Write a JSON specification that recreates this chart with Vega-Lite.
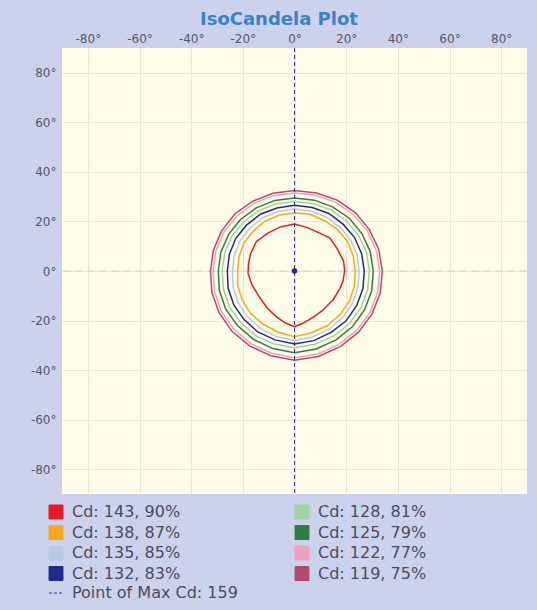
{
  "$schema": "https://vega.github.io/schema/vega-lite/v6.json",
  "autosize": {"type": "none"},
  "padding": {"left": 62, "top": 48, "right": 10, "bottom": 116},
  "width": 465,
  "height": 446,
  "background": "#ccd2ec",
  "title": {
    "text": "IsoCandela Plot",
    "font": "DejaVu Sans",
    "fontSize": 18,
    "fontWeight": "bold",
    "color": "#3b82c4",
    "anchor": "middle",
    "frame": "bounds",
    "offset": 3
  },
  "config": {
    "view": {"fill": "#fffcea", "stroke": null},
    "axis": {
      "labelFont": "DejaVu Sans",
      "labelFontSize": 12,
      "labelColor": "#555566",
      "domain": false,
      "ticks": false,
      "gridColor": "#ebe5cf",
      "gridWidth": 1,
      "title": null
    }
  },
  "datasets": {
    "maxline": [{"k": "Point of Max Cd: 159", "x": 0}],
    "zero": [{"y": 0}],
    "center": [{"x": 0, "y": 0}],
    "contours": [
      {"k": "Cd: 143, 90%", "i": 0, "x": 0, "y": 19},
      {"k": "Cd: 143, 90%", "i": 1, "x": 5, "y": 17.5},
      {"k": "Cd: 143, 90%", "i": 2, "x": 10, "y": 15.2},
      {"k": "Cd: 143, 90%", "i": 3, "x": 13.6, "y": 13.4},
      {"k": "Cd: 143, 90%", "i": 4, "x": 16.5, "y": 9},
      {"k": "Cd: 143, 90%", "i": 5, "x": 19, "y": 4},
      {"k": "Cd: 143, 90%", "i": 6, "x": 19.4, "y": 0},
      {"k": "Cd: 143, 90%", "i": 7, "x": 18.8, "y": -4},
      {"k": "Cd: 143, 90%", "i": 8, "x": 17.6, "y": -7},
      {"k": "Cd: 143, 90%", "i": 9, "x": 15, "y": -11.5},
      {"k": "Cd: 143, 90%", "i": 10, "x": 11, "y": -15.8},
      {"k": "Cd: 143, 90%", "i": 11, "x": 7, "y": -18.8},
      {"k": "Cd: 143, 90%", "i": 12, "x": 3, "y": -21.2},
      {"k": "Cd: 143, 90%", "i": 13, "x": 0, "y": -22.5},
      {"k": "Cd: 143, 90%", "i": 14, "x": -3.5, "y": -21},
      {"k": "Cd: 143, 90%", "i": 15, "x": -7.1, "y": -18.4},
      {"k": "Cd: 143, 90%", "i": 16, "x": -10.5, "y": -15},
      {"k": "Cd: 143, 90%", "i": 17, "x": -13.6, "y": -10.5},
      {"k": "Cd: 143, 90%", "i": 18, "x": -16.5, "y": -5.5},
      {"k": "Cd: 143, 90%", "i": 19, "x": -18, "y": -1},
      {"k": "Cd: 143, 90%", "i": 20, "x": -17.8, "y": 3},
      {"k": "Cd: 143, 90%", "i": 21, "x": -17, "y": 7},
      {"k": "Cd: 143, 90%", "i": 22, "x": -14.8, "y": 11.8},
      {"k": "Cd: 143, 90%", "i": 23, "x": -10.5, "y": 15.2},
      {"k": "Cd: 143, 90%", "i": 24, "x": -5.5, "y": 17.8},
      {"k": "Cd: 143, 90%", "i": 25, "x": 0, "y": 19},

      {"k": "Cd: 138, 87%", "i": 0, "x": 23.5, "y": 0},
      {"k": "Cd: 138, 87%", "i": 1, "x": 22.7, "y": 6.1},
      {"k": "Cd: 138, 87%", "i": 2, "x": 20.6, "y": 11.8},
      {"k": "Cd: 138, 87%", "i": 3, "x": 16.6, "y": 16.8},
      {"k": "Cd: 138, 87%", "i": 4, "x": 11.8, "y": 20.2},
      {"k": "Cd: 138, 87%", "i": 5, "x": 6.1, "y": 22.9},
      {"k": "Cd: 138, 87%", "i": 6, "x": 0, "y": 23.5},
      {"k": "Cd: 138, 87%", "i": 7, "x": -6, "y": 22.5},
      {"k": "Cd: 138, 87%", "i": 8, "x": -11.5, "y": 20.1},
      {"k": "Cd: 138, 87%", "i": 9, "x": -16.1, "y": 16},
      {"k": "Cd: 138, 87%", "i": 10, "x": -19.6, "y": 11.3},
      {"k": "Cd: 138, 87%", "i": 11, "x": -21.5, "y": 5.8},
      {"k": "Cd: 138, 87%", "i": 12, "x": -22, "y": 0},
      {"k": "Cd: 138, 87%", "i": 13, "x": -22, "y": -5.9},
      {"k": "Cd: 138, 87%", "i": 14, "x": -20.2, "y": -11.8},
      {"k": "Cd: 138, 87%", "i": 15, "x": -17.1, "y": -17},
      {"k": "Cd: 138, 87%", "i": 16, "x": -12.3, "y": -21.4},
      {"k": "Cd: 138, 87%", "i": 17, "x": -6.5, "y": -24.6},
      {"k": "Cd: 138, 87%", "i": 18, "x": 0, "y": -26.5},
      {"k": "Cd: 138, 87%", "i": 19, "x": 6.6, "y": -24.9},
      {"k": "Cd: 138, 87%", "i": 20, "x": 12.8, "y": -22},
      {"k": "Cd: 138, 87%", "i": 21, "x": 17.7, "y": -17.5},
      {"k": "Cd: 138, 87%", "i": 22, "x": 21.2, "y": -12.3},
      {"k": "Cd: 138, 87%", "i": 23, "x": 23.2, "y": -6.2},
      {"k": "Cd: 138, 87%", "i": 24, "x": 23.5, "y": 0},

      {"k": "Cd: 135, 85%", "i": 0, "x": 25, "y": 0},
      {"k": "Cd: 135, 85%", "i": 1, "x": 24.2, "y": 6.5},
      {"k": "Cd: 135, 85%", "i": 2, "x": 21.7, "y": 12.6},
      {"k": "Cd: 135, 85%", "i": 3, "x": 17.7, "y": 17.6},
      {"k": "Cd: 135, 85%", "i": 4, "x": 12.5, "y": 21.7},
      {"k": "Cd: 135, 85%", "i": 5, "x": 6.5, "y": 24.1},
      {"k": "Cd: 135, 85%", "i": 6, "x": 0, "y": 25},
      {"k": "Cd: 135, 85%", "i": 7, "x": -6.4, "y": 24},
      {"k": "Cd: 135, 85%", "i": 8, "x": -12.3, "y": 21.5},
      {"k": "Cd: 135, 85%", "i": 9, "x": -17.3, "y": 17.2},
      {"k": "Cd: 135, 85%", "i": 10, "x": -21.1, "y": 12.3},
      {"k": "Cd: 135, 85%", "i": 11, "x": -23.3, "y": 6.3},
      {"k": "Cd: 135, 85%", "i": 12, "x": -24, "y": 0},
      {"k": "Cd: 135, 85%", "i": 13, "x": -23.8, "y": -6.4},
      {"k": "Cd: 135, 85%", "i": 14, "x": -21.9, "y": -12.7},
      {"k": "Cd: 135, 85%", "i": 15, "x": -18.4, "y": -18.3},
      {"k": "Cd: 135, 85%", "i": 16, "x": -13.3, "y": -23.1},
      {"k": "Cd: 135, 85%", "i": 17, "x": -7.1, "y": -26.4},
      {"k": "Cd: 135, 85%", "i": 18, "x": 0, "y": -28},
      {"k": "Cd: 135, 85%", "i": 19, "x": 7.1, "y": -26.6},
      {"k": "Cd: 135, 85%", "i": 20, "x": 13.5, "y": -23.4},
      {"k": "Cd: 135, 85%", "i": 21, "x": 18.7, "y": -18.8},
      {"k": "Cd: 135, 85%", "i": 22, "x": 22.5, "y": -13},
      {"k": "Cd: 135, 85%", "i": 23, "x": 24.6, "y": -6.6},
      {"k": "Cd: 135, 85%", "i": 24, "x": 25, "y": 0},

      {"k": "Cd: 132, 83%", "i": 0, "x": 27, "y": 0},
      {"k": "Cd: 132, 83%", "i": 1, "x": 26, "y": 7},
      {"k": "Cd: 132, 83%", "i": 2, "x": 23.2, "y": 13.6},
      {"k": "Cd: 132, 83%", "i": 3, "x": 18.9, "y": 18.8},
      {"k": "Cd: 132, 83%", "i": 4, "x": 13.3, "y": 23.2},
      {"k": "Cd: 132, 83%", "i": 5, "x": 6.9, "y": 25.6},
      {"k": "Cd: 132, 83%", "i": 6, "x": 0, "y": 26.5},
      {"k": "Cd: 132, 83%", "i": 7, "x": -6.8, "y": 25.4},
      {"k": "Cd: 132, 83%", "i": 8, "x": -13.2, "y": 22.9},
      {"k": "Cd: 132, 83%", "i": 9, "x": -18.6, "y": 18.5},
      {"k": "Cd: 132, 83%", "i": 10, "x": -22.7, "y": 13.2},
      {"k": "Cd: 132, 83%", "i": 11, "x": -25.2, "y": 6.8},
      {"k": "Cd: 132, 83%", "i": 12, "x": -26, "y": 0},
      {"k": "Cd: 132, 83%", "i": 13, "x": -25.7, "y": -6.9},
      {"k": "Cd: 132, 83%", "i": 14, "x": -23.5, "y": -13.7},
      {"k": "Cd: 132, 83%", "i": 15, "x": -19.6, "y": -19.5},
      {"k": "Cd: 132, 83%", "i": 16, "x": -14.2, "y": -24.6},
      {"k": "Cd: 132, 83%", "i": 17, "x": -7.5, "y": -27.8},
      {"k": "Cd: 132, 83%", "i": 18, "x": 0, "y": -29.5},
      {"k": "Cd: 132, 83%", "i": 19, "x": 7.5, "y": -28.1},
      {"k": "Cd: 132, 83%", "i": 20, "x": 14.3, "y": -24.7},
      {"k": "Cd: 132, 83%", "i": 21, "x": 20, "y": -20.1},
      {"k": "Cd: 132, 83%", "i": 22, "x": 24.1, "y": -13.9},
      {"k": "Cd: 132, 83%", "i": 23, "x": 26.5, "y": -7.1},
      {"k": "Cd: 132, 83%", "i": 24, "x": 27, "y": 0},

      {"k": "Cd: 128, 81%", "i": 0, "x": 29, "y": 0},
      {"k": "Cd: 128, 81%", "i": 1, "x": 27.9, "y": 7.5},
      {"k": "Cd: 128, 81%", "i": 2, "x": 24.8, "y": 14.4},
      {"k": "Cd: 128, 81%", "i": 3, "x": 20.2, "y": 20.1},
      {"k": "Cd: 128, 81%", "i": 4, "x": 14.2, "y": 24.6},
      {"k": "Cd: 128, 81%", "i": 5, "x": 7.3, "y": 27.1},
      {"k": "Cd: 128, 81%", "i": 6, "x": 0, "y": 28},
      {"k": "Cd: 128, 81%", "i": 7, "x": -7.3, "y": 27},
      {"k": "Cd: 128, 81%", "i": 8, "x": -14, "y": 24.3},
      {"k": "Cd: 128, 81%", "i": 9, "x": -19.8, "y": 19.7},
      {"k": "Cd: 128, 81%", "i": 10, "x": -24.3, "y": 14},
      {"k": "Cd: 128, 81%", "i": 11, "x": -27, "y": 7.3},
      {"k": "Cd: 128, 81%", "i": 12, "x": -28, "y": 0},
      {"k": "Cd: 128, 81%", "i": 13, "x": -27.5, "y": -7.4},
      {"k": "Cd: 128, 81%", "i": 14, "x": -25.1, "y": -14.6},
      {"k": "Cd: 128, 81%", "i": 15, "x": -20.9, "y": -20.8},
      {"k": "Cd: 128, 81%", "i": 16, "x": -15, "y": -26.1},
      {"k": "Cd: 128, 81%", "i": 17, "x": -7.9, "y": -29.5},
      {"k": "Cd: 128, 81%", "i": 18, "x": 0, "y": -31},
      {"k": "Cd: 128, 81%", "i": 19, "x": 7.9, "y": -29.6},
      {"k": "Cd: 128, 81%", "i": 20, "x": 15.2, "y": -26.2},
      {"k": "Cd: 128, 81%", "i": 21, "x": 21.2, "y": -21.3},
      {"k": "Cd: 128, 81%", "i": 22, "x": 25.7, "y": -14.8},
      {"k": "Cd: 128, 81%", "i": 23, "x": 28.3, "y": -7.6},
      {"k": "Cd: 128, 81%", "i": 24, "x": 29, "y": 0},

      {"k": "Cd: 125, 79%", "i": 0, "x": 30.5, "y": 0},
      {"k": "Cd: 125, 79%", "i": 1, "x": 29.3, "y": 7.9},
      {"k": "Cd: 125, 79%", "i": 2, "x": 26.1, "y": 15.1},
      {"k": "Cd: 125, 79%", "i": 3, "x": 21.2, "y": 21.3},
      {"k": "Cd: 125, 79%", "i": 4, "x": 14.9, "y": 25.8},
      {"k": "Cd: 125, 79%", "i": 5, "x": 7.7, "y": 28.6},
      {"k": "Cd: 125, 79%", "i": 6, "x": 0, "y": 29.5},
      {"k": "Cd: 125, 79%", "i": 7, "x": -7.6, "y": 28.5},
      {"k": "Cd: 125, 79%", "i": 8, "x": -14.8, "y": 25.5},
      {"k": "Cd: 125, 79%", "i": 9, "x": -20.9, "y": 20.8},
      {"k": "Cd: 125, 79%", "i": 10, "x": -25.5, "y": 14.8},
      {"k": "Cd: 125, 79%", "i": 11, "x": -28.5, "y": 7.6},
      {"k": "Cd: 125, 79%", "i": 12, "x": -29.5, "y": 0},
      {"k": "Cd: 125, 79%", "i": 13, "x": -29.1, "y": -7.8},
      {"k": "Cd: 125, 79%", "i": 14, "x": -26.6, "y": -15.4},
      {"k": "Cd: 125, 79%", "i": 15, "x": -22.1, "y": -22},
      {"k": "Cd: 125, 79%", "i": 16, "x": -15.9, "y": -27.6},
      {"k": "Cd: 125, 79%", "i": 17, "x": -8.4, "y": -31.3},
      {"k": "Cd: 125, 79%", "i": 18, "x": 0, "y": -33},
      {"k": "Cd: 125, 79%", "i": 19, "x": 8.4, "y": -31.5},
      {"k": "Cd: 125, 79%", "i": 20, "x": 16.1, "y": -27.8},
      {"k": "Cd: 125, 79%", "i": 21, "x": 22.5, "y": -22.4},
      {"k": "Cd: 125, 79%", "i": 22, "x": 27.1, "y": -15.7},
      {"k": "Cd: 125, 79%", "i": 23, "x": 29.9, "y": -8},
      {"k": "Cd: 125, 79%", "i": 24, "x": 30.5, "y": 0},

      {"k": "Cd: 122, 77%", "i": 0, "x": 33, "y": 0},
      {"k": "Cd: 122, 77%", "i": 1, "x": 31.6, "y": 8.5},
      {"k": "Cd: 122, 77%", "i": 2, "x": 28.2, "y": 16.3},
      {"k": "Cd: 122, 77%", "i": 3, "x": 22.8, "y": 22.7},
      {"k": "Cd: 122, 77%", "i": 4, "x": 16, "y": 27.7},
      {"k": "Cd: 122, 77%", "i": 5, "x": 8.2, "y": 30.6},
      {"k": "Cd: 122, 77%", "i": 6, "x": 0, "y": 31.5},
      {"k": "Cd: 122, 77%", "i": 7, "x": -8.2, "y": 30.4},
      {"k": "Cd: 122, 77%", "i": 8, "x": -15.8, "y": 27.3},
      {"k": "Cd: 122, 77%", "i": 9, "x": -22.3, "y": 22.2},
      {"k": "Cd: 122, 77%", "i": 10, "x": -27.3, "y": 15.8},
      {"k": "Cd: 122, 77%", "i": 11, "x": -30.4, "y": 8.2},
      {"k": "Cd: 122, 77%", "i": 12, "x": -31.5, "y": 0},
      {"k": "Cd: 122, 77%", "i": 13, "x": -31, "y": -8.3},
      {"k": "Cd: 122, 77%", "i": 14, "x": -28.3, "y": -16.4},
      {"k": "Cd: 122, 77%", "i": 15, "x": -23.5, "y": -23.4},
      {"k": "Cd: 122, 77%", "i": 16, "x": -16.9, "y": -29.3},
      {"k": "Cd: 122, 77%", "i": 17, "x": -8.9, "y": -33.2},
      {"k": "Cd: 122, 77%", "i": 18, "x": 0, "y": -35},
      {"k": "Cd: 122, 77%", "i": 19, "x": 9, "y": -33.5},
      {"k": "Cd: 122, 77%", "i": 20, "x": 17.2, "y": -29.6},
      {"k": "Cd: 122, 77%", "i": 21, "x": 24, "y": -24.1},
      {"k": "Cd: 122, 77%", "i": 22, "x": 29.2, "y": -16.8},
      {"k": "Cd: 122, 77%", "i": 23, "x": 32.2, "y": -8.6},
      {"k": "Cd: 122, 77%", "i": 24, "x": 33, "y": 0},

      {"k": "Cd: 119, 75%", "i": 0, "x": 34, "y": 0},
      {"k": "Cd: 119, 75%", "i": 1, "x": 32.6, "y": 8.8},
      {"k": "Cd: 119, 75%", "i": 2, "x": 29, "y": 16.7},
      {"k": "Cd: 119, 75%", "i": 3, "x": 23.5, "y": 23.6},
      {"k": "Cd: 119, 75%", "i": 4, "x": 16.5, "y": 28.6},
      {"k": "Cd: 119, 75%", "i": 5, "x": 8.5, "y": 31.5},
      {"k": "Cd: 119, 75%", "i": 6, "x": 0, "y": 32.5},
      {"k": "Cd: 119, 75%", "i": 7, "x": -8.4, "y": 31.4},
      {"k": "Cd: 119, 75%", "i": 8, "x": -16.3, "y": 28.1},
      {"k": "Cd: 119, 75%", "i": 9, "x": -23, "y": 23.1},
      {"k": "Cd: 119, 75%", "i": 10, "x": -28.2, "y": 16.2},
      {"k": "Cd: 119, 75%", "i": 11, "x": -31.4, "y": 8.4},
      {"k": "Cd: 119, 75%", "i": 12, "x": -32.5, "y": 0},
      {"k": "Cd: 119, 75%", "i": 13, "x": -32, "y": -8.6},
      {"k": "Cd: 119, 75%", "i": 14, "x": -29.2, "y": -16.8},
      {"k": "Cd: 119, 75%", "i": 15, "x": -24.2, "y": -24.3},
      {"k": "Cd: 119, 75%", "i": 16, "x": -17.4, "y": -30.2},
      {"k": "Cd: 119, 75%", "i": 17, "x": -9.2, "y": -34.2},
      {"k": "Cd: 119, 75%", "i": 18, "x": 0, "y": -36},
      {"k": "Cd: 119, 75%", "i": 19, "x": 9.2, "y": -34.5},
      {"k": "Cd: 119, 75%", "i": 20, "x": 17.7, "y": -30.5},
      {"k": "Cd: 119, 75%", "i": 21, "x": 24.8, "y": -24.7},
      {"k": "Cd: 119, 75%", "i": 22, "x": 30, "y": -17.3},
      {"k": "Cd: 119, 75%", "i": 23, "x": 33.2, "y": -8.9},
      {"k": "Cd: 119, 75%", "i": 24, "x": 34, "y": 0}
    ]
  },
  "encoding": {
    "x": {
      "field": "x", "type": "quantitative",
      "scale": {"domain": [-90, 90], "nice": false, "zero": false},
      "axis": {
        "orient": "top",
        "values": [-80, -60, -40, -20, 0, 20, 40, 60, 80],
        "labelExpr": "datum.value + '°'",
        "labelPadding": 3,
        "grid": true
      }
    },
    "y": {
      "field": "y", "type": "quantitative",
      "scale": {"domain": [-90, 90], "nice": false, "zero": false},
      "axis": {
        "orient": "left",
        "values": [-80, -60, -40, -20, 0, 20, 40, 60, 80],
        "labelExpr": "datum.value + '°'",
        "labelPadding": 6,
        "grid": true
      }
    }
  },
  "layer": [
    {
      "data": {"name": "zero"},
      "mark": {"type": "rule", "color": "#cfcfcf", "strokeDash": [8, 4], "strokeWidth": 1},
      "encoding": {"x": null, "y": {"field": "y", "type": "quantitative"}}
    },
    {
      "data": {"name": "contours"},
      "mark": {"type": "line", "strokeWidth": 1.5, "interpolate": "linear"},
      "encoding": {
        "order": {"field": "i", "type": "quantitative"},
        "color": {
          "field": "k", "type": "nominal",
          "scale": {
            "domain": ["Cd: 143, 90%", "Cd: 138, 87%", "Cd: 135, 85%", "Cd: 132, 83%", "Point of Max Cd: 159", "Cd: 128, 81%", "Cd: 125, 79%", "Cd: 122, 77%", "Cd: 119, 75%"],
            "range": ["#e81c24", "#f7a81b", "#b4cbe3", "#1f2a8c", "#34348f", "#9fd3a0", "#2f7d46", "#f0a1bd", "#b24a6f"]
          },
          "legend": {
            "title": null,
            "orient": "none",
            "legendX": -14,
            "legendY": 456,
            "columns": 2,
            "columnPadding": 55,
            "rowPadding": 2.5,
            "padding": 0,
            "symbolType": "square",
            "symbolSize": 196,
            "symbolStrokeWidth": 1,
            "labelFont": "DejaVu Sans",
            "labelFontSize": 16,
            "labelColor": "#4a4a5a",
            "labelOffset": 8,
            "labelLimit": 260,
            "encode": {
              "symbols": {
                "update": {
                  "shape": {"signal": "datum.value === 'Point of Max Cd: 159' ? 'stroke' : 'square'"},
                  "fill": {"signal": "datum.value === 'Point of Max Cd: 159' ? 'transparent' : scale('color', datum.value)"},
                  "strokeDash": {"signal": "datum.value === 'Point of Max Cd: 159' ? [3, 2] : [1, 0]"},
                  "opacity": {"value": 1}
                }
              }
            }
          }
        }
      }
    },
    {
      "data": {"name": "maxline"},
      "mark": {"type": "rule", "strokeDash": [4, 3], "strokeWidth": 1},
      "encoding": {
        "y": null,
        "color": {"field": "k", "type": "nominal"}
      }
    },
    {
      "data": {"name": "center"},
      "mark": {"type": "point", "filled": true, "color": "#1f2a8c", "size": 30, "opacity": 1},
      "encoding": {}
    }
  ]
}
